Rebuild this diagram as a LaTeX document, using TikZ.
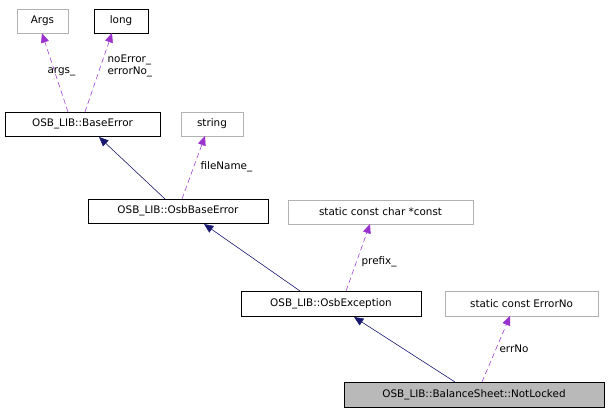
\documentclass[tikz,border=0pt]{standalone}
\usepackage{fontspec}
\setmainfont{DejaVu Sans}
\usetikzlibrary{arrows.meta}
\definecolor{inh}{HTML}{191970}
\definecolor{use}{HTML}{9A32CD}
\begin{document}
\begin{tikzpicture}[x=0.75pt,y=-0.75pt,
  box/.style={draw=black,fill=white,inner sep=0pt,font=\fontsize{7.8}{9}\selectfont},
  gbox/.style={box,draw=gray!60},
  inhline/.style={draw=inh,-{Triangle[length=7pt,width=6pt]},fill=inh},
  useline/.style={draw=use,dashed,dash pattern=on 4pt off 2.5pt,-{Triangle[length=7pt,width=6pt]}},
  lbl/.style={font=\fontsize{7.8}{9}\selectfont,align=left,inner sep=1pt}]
\useasboundingbox (0,0) rectangle (608,413);
\node[gbox,minimum width=51*0.75pt,minimum height=24*0.75pt] (args) at (42.5,21) {Args};
\node[box,minimum width=54*0.75pt,minimum height=24*0.75pt] (long) at (121,21) {long};
\node[box,minimum width=155*0.75pt,minimum height=24*0.75pt] (be) at (82.5,124) {OSB\_LIB::BaseError};
\node[gbox,minimum width=62*0.75pt,minimum height=24*0.75pt] (str) at (212,124) {string};
\node[box,minimum width=180*0.75pt,minimum height=24*0.75pt] (obe) at (178,211) {OSB\_LIB::OsbBaseError};
\node[gbox,minimum width=185*0.75pt,minimum height=24*0.75pt] (scc) at (380.5,212) {static const char *const};
\node[box,minimum width=180*0.75pt,minimum height=25*0.75pt] (oe) at (331,303.5) {OSB\_LIB::OsbException};
\node[gbox,minimum width=153*0.75pt,minimum height=25*0.75pt] (sce) at (521.5,303.5) {static const ErrorNo};
\node[box,fill=gray!55,minimum width=260*0.75pt,minimum height=25*0.75pt] (nl) at (474,394.5) {OSB\_LIB::BalanceSheet::NotLocked};
\coordinate (a1) at (68,112); \coordinate (a2) at (85,112);
\draw[useline] (a1) -- (args.south -| 42,0);
\draw[useline] (a2) -- (112,33);
\node[lbl,anchor=west] at (46,72) {args\_};
\node[lbl,anchor=west] at (106,66) {noError\_\\errorNo\_};
\draw[inhline] (165,199) -- (99,137);
\draw[useline] (182,199) -- (205,136);
\node[lbl,anchor=west] at (199,167) {fileName\_};
\draw[inhline] (300,291) -- (204,224);
\draw[useline] (346,291) -- (370,224);
\node[lbl,anchor=west] at (360,262) {prefix\_};
\draw[inhline] (455,382) -- (354,317);
\draw[useline] (482,382) -- (510,316);
\node[lbl,anchor=west] at (498,349) {errNo};
\end{tikzpicture}
\end{document}
